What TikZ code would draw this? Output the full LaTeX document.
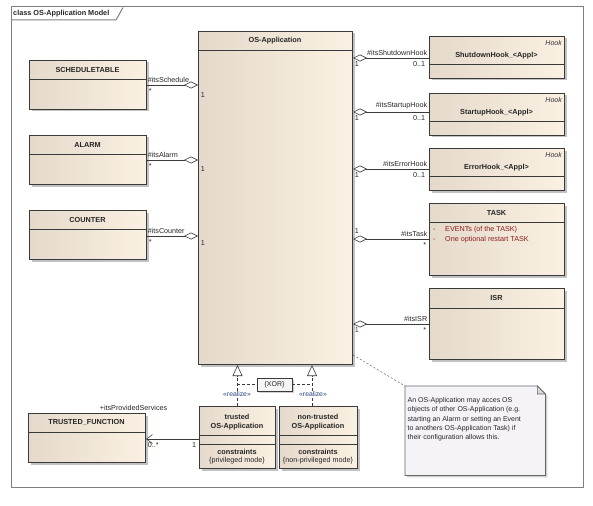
\documentclass[tikz,border=0pt]{standalone}
\usepackage{fontspec}
\setmainfont{Liberation Sans}
\usetikzlibrary{arrows.meta,shadows,calc}
\definecolor{boxline}{HTML}{3A3A3A}
\definecolor{fillL}{HTML}{E4D9CA}
\definecolor{fillR}{HTML}{FBF1E2}
\definecolor{framec}{HTML}{7F7F7F}
\definecolor{labelc}{HTML}{262626}
\definecolor{realc}{HTML}{23407A}
\definecolor{attrc}{HTML}{8B1E1E}
\definecolor{notefill}{HTML}{F6F3F8}
\tikzset{
  classbox/.style={draw=boxline, line width=1pt, left color=fillL, right color=fillR, inner sep=0pt,
    drop shadow={shadow xshift=2pt, shadow yshift=-2pt, opacity=0.4, fill=black!60}},
  sepline/.style={draw=boxline, line width=0.9pt},
  ctitle/.style={font=\fontsize{7.3}{8.6}\selectfont\bfseries, text=black!85, inner sep=0pt, align=center},
  stereo/.style={font=\fontsize{7}{8}\selectfont\itshape, text=black!80, inner sep=0pt},
  lbl/.style={font=\fontsize{7.2}{8}\selectfont, text=labelc, inner sep=0.6pt},
  assoc/.style={draw=boxline, line width=0.8pt},
  agg/.style={assoc, -{Diamond[fill=white, length=14pt, width=7pt, line width=0.6pt]}},
  navarrow/.style={assoc, -{Straight Barb[length=6pt, width=9pt, line width=0.6pt]}},
  realize/.style={draw=boxline, line width=0.7pt, dash pattern=on 3pt off 2pt,
    -{Triangle[open, fill=white, length=11pt, width=10pt, line width=0.6pt]}},
  realabel/.style={font=\fontsize{6.8}{8}\selectfont, text=realc, fill=white, inner sep=0.8pt},
  xorline/.style={draw=boxline, line width=0.7pt, dash pattern=on 3pt off 2pt},
  xorbox/.style={draw=boxline, line width=0.8pt, fill=white!96!black, minimum width=35pt, minimum height=13pt,
    inner sep=0pt, font=\fontsize{7}{8}\selectfont, text=labelc,
    drop shadow={shadow xshift=1.5pt, shadow yshift=-1.5pt, opacity=0.3, fill=black!60}},
  framel/.style={draw=framec, line width=1pt},
  notelink/.style={draw=black!55, line width=0.6pt, dash pattern=on 2pt off 2pt},
  notedraw/.style={draw=black!60, line width=0.8pt, fill=notefill,
    drop shadow={shadow xshift=2pt, shadow yshift=-2pt, opacity=0.3, fill=black!60}},
  notetext/.style={font=\fontsize{7}{9.4}\selectfont, text=labelc, align=left, inner sep=0pt},
  attr/.style={font=\fontsize{7.2}{8}\selectfont, text=attrc, inner sep=0pt, anchor=west},
}
% name, x1, y1, x2, y2, separator y, title
\newcommand\umlclass[7]{%
  \node[classbox, anchor=north west, minimum width={(#4-#2)*1pt}, minimum height={(#5-#3)*1pt}] (#1) at (#2,#3) {};
  \draw[sepline] (#2,#6) -- (#4,#6);
  \node[ctitle] at ({(#2+#4)/2},{(#3+#6)/2}) {#7};
}
% hook box: name, y1, title
\newcommand\hookclass[3]{%
  \node[classbox, anchor=north west, minimum width=135pt, minimum height=42pt] (#1) at (429,#2) {};
  \draw[sepline] (429,#2+28) -- (564,#2+28);
  \node[stereo, anchor=east] at (562,#2+7) {Hook};
  \node[ctitle] at (496.5,#2+20) {#3};
}
\begin{document}
\begin{tikzpicture}[x=1pt,y=-1pt]
\useasboundingbox (0,0) rectangle (593,505);
% frame
\draw[framel] (11,7) rectangle (583,487);
\draw[framel] (11,20) -- (116,20) -- (123,7.5);
\node[ctitle, anchor=west] (ftitle) at (13,14) {class OS-Application Model};

% classes
\umlclass{osa}{198}{31}{352}{364}{50}{OS-Application}
\umlclass{st}{29}{60}{146}{109}{79}{SCHEDULETABLE}
\umlclass{alarm}{29}{135}{146}{184}{154}{ALARM}
\umlclass{counter}{29}{210}{146}{259}{229}{COUNTER}
\hookclass{shut}{36}{ShutdownHook\_<Appl>}
\hookclass{start}{93}{StartupHook\_<Appl>}
\hookclass{err}{148}{ErrorHook\_<Appl>}
\umlclass{task}{429}{203}{564}{275}{222}{TASK}
\umlclass{isr}{429}{288}{564}{359}{308}{ISR}
\umlclass{tf}{28}{413}{145}{462}{432}{TRUSTED\_FUNCTION}

% TASK attributes
\node[attr] at (433,230) {-};
\node[attr] at (445,230) {EVENTs (of the TASK)};
\node[attr] at (433,240) {-};
\node[attr] at (445,240) {One optional restart TASK};

% trusted / non-trusted
\node[classbox, anchor=north west, minimum width=76pt, minimum height=62pt] (trusted) at (199,406) {};
\draw[sepline] (199,435) -- (275,435);
\draw[sepline] (199,444) -- (275,444);
\node[ctitle] at (237,422) {trusted\\OS-Application};
\node[ctitle] at (237,452) {constraints};
\node[lbl] at (237,461) {\{privileged mode\}};

\node[classbox, anchor=north west, minimum width=78pt, minimum height=62pt] (ntrusted) at (279,406) {};
\draw[sepline] (279,435) -- (357,435);
\draw[sepline] (279,444) -- (357,444);
\node[ctitle] at (318,422) {non-trusted\\OS-Application};
\node[ctitle] at (318,452) {constraints};
\node[lbl] at (318,461) {\{non-privileged mode\}};

% aggregations, left
\draw[agg] (st.east |- 0,85) -- (osa.west |- 0,85);
\node[lbl, anchor=south west] at (147,83) {\#itsSchedule};
\node[lbl, anchor=north west] at (148,88) {*};
\node[lbl, anchor=north west] at (200,92) {1};

\draw[agg] (alarm.east |- 0,160) -- (osa.west |- 0,160);
\node[lbl, anchor=south west] at (147,158) {\#itsAlarm};
\node[lbl, anchor=north west] at (148,163) {*};
\node[lbl, anchor=north west] at (200,166) {1};

\draw[agg] (counter.east |- 0,236) -- (osa.west |- 0,236);
\node[lbl, anchor=south west] at (147,234) {\#itsCounter};
\node[lbl, anchor=north west] at (148,239) {*};
\node[lbl, anchor=north west] at (200,240) {1};

% aggregations, right
\draw[agg] (shut.west |- 0,58) -- (osa.east |- 0,58);
\node[lbl, anchor=south east] at (428,56) {\#itsShutdownHook};
\node[lbl, anchor=north east] at (426,61) {0..1};
\node[lbl, anchor=north west] at (354,61) {1};

\draw[agg] (start.west |- 0,112) -- (osa.east |- 0,112);
\node[lbl, anchor=south east] at (428,110) {\#itsStartupHook};
\node[lbl, anchor=north east] at (426,115) {0..1};
\node[lbl, anchor=north west] at (354,115) {1};

\draw[agg] (err.west |- 0,169) -- (osa.east |- 0,169);
\node[lbl, anchor=south east] at (428,167) {\#itsErrorHook};
\node[lbl, anchor=north east] at (426,172) {0..1};
\node[lbl, anchor=north west] at (354,172) {1};

\draw[agg] (task.west |- 0,239) -- (osa.east |- 0,239);
\node[lbl, anchor=south east] at (428,237) {\#itsTask};
\node[lbl, anchor=north east] at (427,242) {*};
\node[lbl, anchor=south west] at (354,234) {1};

\draw[agg] (isr.west |- 0,324) -- (osa.east |- 0,324);
\node[lbl, anchor=south east] at (428,322) {\#itsISR};
\node[lbl, anchor=north east] at (427,327) {*};
\node[lbl, anchor=north west, text=realc] at (354,327) {1};

% realizations
\draw[realize] (trusted.north) -- (trusted.north |- osa.south);
\draw[realize] (ntrusted.north -| 312,0) -- (osa.south -| 312,0);
\node[realabel] (rl1) at (237,394.5) {«realize»};
\node[realabel] (rl2) at (313,394.5) {«realize»};
\coordinate (xl) at (237,384.5);
\coordinate (xr) at (312,384.5);
\node[xorbox] (xor) at (274.5,384.5) {\{XOR\}};
\draw[xorline] (xl) -- (xor.west);
\draw[xorline] (xor.east) -- (xr);

% trusted function
\draw[navarrow] (trusted.west |- 0,439) -- (tf.east |- 0,439);
\node[lbl, anchor=south west] at (99,411) {+itsProvidedServices};
\node[lbl, anchor=north west] at (147,442) {0..*};
\node[lbl, anchor=north east] at (197,442) {1};

% note
\node[inner sep=0pt, minimum width=140pt, minimum height=89pt, anchor=north west] (note) at (405,386) {};
\path[notedraw] (note.north west) -- ([xshift=-8pt]note.north east) -- ([yshift=-8pt]note.north east)
  -- (note.south east) -- (note.south west) -- cycle;
\path[draw=black!60, line width=0.6pt, fill=black!15] ([xshift=-8pt]note.north east) -- ([xshift=-8pt,yshift=-8pt]note.north east) -- ([yshift=-8pt]note.north east) -- cycle;
\node[notetext, anchor=north west] (notetxt) at ([xshift=2.5pt,yshift=-11pt]note.north west)
  {An OS-Application may acces OS\\objects of other OS-Application (e.g.\\starting an Alarm or setting an Event\\to anothers OS-Application Task) if\\their configuration allows this.};
\draw[notelink] (osa.east |- 0,355) -- (note.north west);
\end{tikzpicture}
\end{document}
